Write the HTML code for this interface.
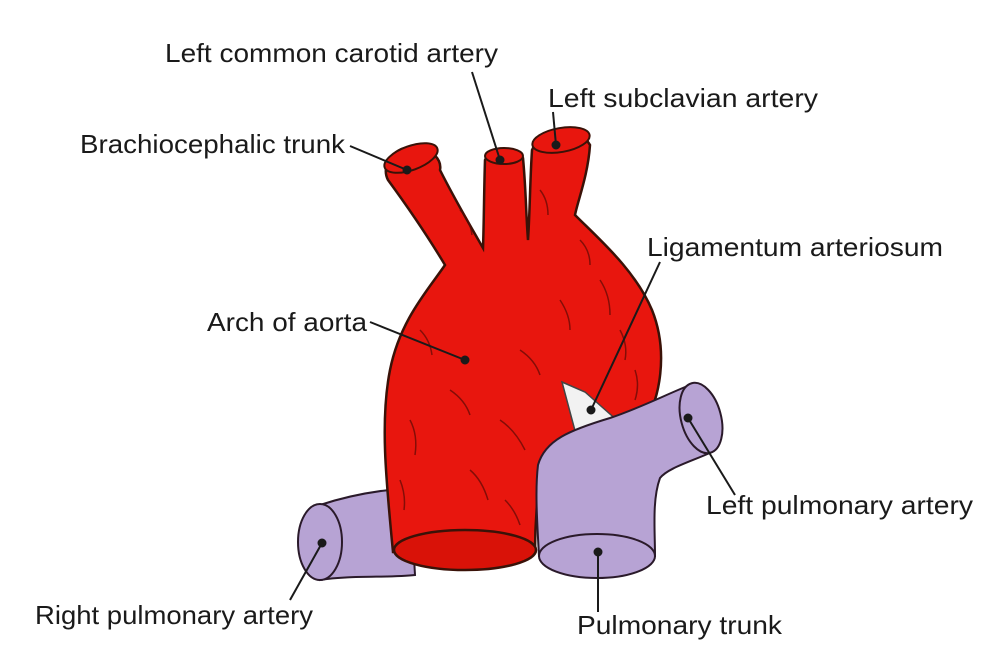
<!DOCTYPE html>
<html><head><meta charset="utf-8"><style>
html,body{margin:0;padding:0;background:#fff;}
svg{display:block;}
text{font-family:"Liberation Sans",sans-serif;font-size:26px;fill:#1a1a1a;}
</style></head><body>
<svg width="988" height="662" viewBox="0 0 988 662" xmlns="http://www.w3.org/2000/svg">
<!-- right pulmonary artery -->
<path d="M320,505 C350,495 380,490 410,488 L415,575 C390,578 350,575 320,580 Z" fill="#b7a3d4" stroke="#2a1a2a" stroke-width="2"/>
<ellipse cx="320" cy="542" rx="22" ry="38" fill="#b7a3d4" stroke="#2a1a2a" stroke-width="2"/>
<!-- aorta -->
<path d="M393,552 C386,480 380,420 390,370 C400,320 428,290 445,265 C430,240 410,210 388,180
 C380,165 395,145 415,147 C432,148 442,160 440,170 C455,200 470,225 483,248
 C484,220 484,190 485,160 C490,148 518,146 523,158 C526,190 526,215 528,240
 C530,210 530,180 532,150 C540,128 580,126 590,145 C588,175 578,200 575,215
 C600,240 635,270 652,310 C668,350 662,400 640,430 L545,452 C538,480 535,520 535,552 Z"
 fill="#e8160e" stroke="#3a1208" stroke-width="2.5"/>
<ellipse cx="465" cy="550" rx="71" ry="20" fill="#d91208" stroke="#3a1208" stroke-width="2.5"/>
<ellipse cx="411" cy="158" rx="28" ry="12" transform="rotate(-20 411 158)" fill="#e8160e" stroke="#3a1208" stroke-width="2"/>
<ellipse cx="504" cy="156" rx="19" ry="8" fill="#e8160e" stroke="#3a1208" stroke-width="2"/>
<ellipse cx="561" cy="140" rx="29" ry="12" transform="rotate(-10 561 140)" fill="#e8160e" stroke="#3a1208" stroke-width="2"/>
<!-- texture strokes -->
<g stroke="#5a0a05" stroke-width="1.5" fill="none" opacity="0.7">
<path d="M420,330 q10,10 12,25"/><path d="M450,390 q15,10 20,25"/><path d="M500,420 q15,10 25,30"/>
<path d="M560,300 q10,15 10,30"/><path d="M600,280 q10,15 10,35"/><path d="M620,330 q8,15 5,30"/>
<path d="M410,420 q8,15 5,35"/><path d="M470,470 q12,10 18,30"/><path d="M520,350 q15,10 20,25"/>
<path d="M460,210 q10,10 12,25"/><path d="M540,190 q8,10 8,25"/><path d="M580,240 q10,10 10,25"/>
<path d="M400,480 q6,15 4,30"/><path d="M505,500 q10,10 15,25"/><path d="M635,370 q5,15 0,30"/>
</g>
<!-- ligamentum -->
<path d="M562,382 L585,392 L628,430 L578,442 Z" fill="#f2f2f2" stroke="#444" stroke-width="1.5"/>
<!-- pulmonary trunk + left pulmonary -->
<path d="M539,556 C537,520 535,490 538,465 C545,440 570,430 610,418 C640,408 665,395 690,385
 L712,452 C690,462 668,468 660,478 C652,500 655,530 655,556 Z" fill="#b7a3d4" stroke="#2a1a2a" stroke-width="2"/>
<ellipse cx="701" cy="418" rx="20" ry="36" transform="rotate(-15 701 418)" fill="#b7a3d4" stroke="#2a1a2a" stroke-width="2"/>
<ellipse cx="597" cy="556" rx="58" ry="22" fill="#b7a3d4" stroke="#2a1a2a" stroke-width="2"/>
<!-- leaders -->
<g stroke="#1a1a1a" stroke-width="2" fill="#1a1a1a">
<line x1="472" y1="72" x2="500" y2="160"/><circle cx="500" cy="160" r="3.5"/>
<line x1="553" y1="112" x2="556" y2="145"/><circle cx="556" cy="145" r="3.5"/>
<line x1="350" y1="146" x2="407" y2="170"/><circle cx="407" cy="170" r="3.5"/>
<line x1="660" y1="262" x2="591" y2="410"/><circle cx="591" cy="410" r="3.5"/>
<line x1="370" y1="322" x2="465" y2="360"/><circle cx="465" cy="360" r="3.5"/>
<line x1="735" y1="495" x2="688" y2="418"/><circle cx="688" cy="418" r="3.5"/>
<line x1="290" y1="600" x2="322" y2="543"/><circle cx="322" cy="543" r="3.5"/>
<line x1="598" y1="612" x2="598" y2="552"/><circle cx="598" cy="552" r="3.5"/>
</g>
<text x="165" y="62" textLength="333" lengthAdjust="spacingAndGlyphs">Left common carotid artery</text>
<text x="548" y="107" textLength="270" lengthAdjust="spacingAndGlyphs">Left subclavian artery</text>
<text x="80" y="153" textLength="265" lengthAdjust="spacingAndGlyphs">Brachiocephalic trunk</text>
<text x="647" y="256" textLength="296" lengthAdjust="spacingAndGlyphs">Ligamentum arteriosum</text>
<text x="207" y="331" textLength="160" lengthAdjust="spacingAndGlyphs">Arch of aorta</text>
<text x="706" y="514" textLength="267" lengthAdjust="spacingAndGlyphs">Left pulmonary artery</text>
<text x="35" y="624" textLength="278" lengthAdjust="spacingAndGlyphs">Right pulmonary artery</text>
<text x="577" y="634" textLength="205" lengthAdjust="spacingAndGlyphs">Pulmonary trunk</text>
</svg>
</body></html>
